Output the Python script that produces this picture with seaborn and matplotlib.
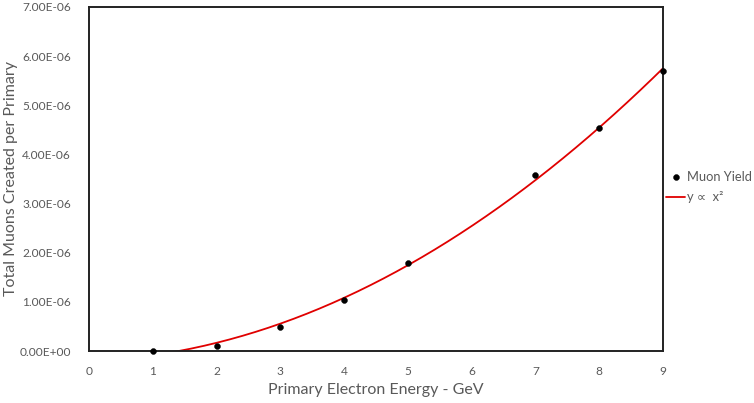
import numpy as np
import pandas as pd
import matplotlib
matplotlib.use("Agg")
import matplotlib.pyplot as plt
import seaborn as sns
from matplotlib.ticker import FuncFormatter

energy_gev = [1, 2, 3, 4, 5, 7, 8, 9]
muon_yield = [0.0, 0.10e-6, 0.49e-6, 1.04e-6, 1.79e-6, 3.58e-6, 4.54e-6, 5.70e-6]

x_ticks = list(range(0, 10))
y_ticks = [0, 1e-6, 2e-6, 3e-6, 4e-6, 5e-6, 6e-6, 7e-6]

fit_label = "y \u221d  x\u00b2"

sns.set_theme(style="white")
plt.rcParams['font.family'] = ['Lato', 'DejaVu Sans']

df = pd.DataFrame({"energy": energy_gev, "muons": muon_yield})

# quadratic trendline, like the spreadsheet one
coef = np.polyfit(df["energy"], df["muons"], 2)
fit_x = np.linspace(1, 9, 200)
fit_df = pd.DataFrame({"energy": fit_x, "muons": np.polyval(coef, fit_x)})

fig = plt.figure(figsize=(7.54, 4.03), dpi=100)
ax = fig.add_axes([89 / 754, 1 - 351 / 403, (663 - 89) / 754, (351 - 7) / 403])

sns.lineplot(data=fit_df, x="energy", y="muons", ax=ax, color="#e00000",
             linewidth=1.3, label=fit_label, zorder=2)
sns.scatterplot(data=df, x="energy", y="muons", ax=ax, color="black",
                s=18, edgecolor="black", label="Muon Yield", zorder=3, clip_on=False)

ax.set_xlim(0, 9)
ax.set_ylim(0, 7e-6)
ax.set_xticks(x_ticks)
ax.set_yticks(y_ticks)
ax.yaxis.set_major_formatter(FuncFormatter(lambda v, p: f"{v:.2E}"))
ax.tick_params(axis="x", length=0, labelsize=8.6, colors="#595959", pad=11)
ax.tick_params(axis="y", length=0, labelsize=8.6, colors="#595959", pad=13)

for s in ax.spines.values():
    s.set_color("#222222")
    s.set_linewidth(1.4)

ax.set_xlabel("Primary Electron Energy - GeV", fontsize=11.5, color="#595959")
ax.set_ylabel("Total Muons Created per Primary", fontsize=11.5, color="#595959")
ax.xaxis.set_label_coords(0.5, -(383 - 351) / 344)
ax.yaxis.set_label_coords(-(89 - 18) / 574, 0.5)

handles, labels = ax.get_legend_handles_labels()
order = [labels.index("Muon Yield"), labels.index(fit_label)]
leg = ax.legend([handles[i] for i in order], [labels[i] for i in order],
                loc="center left", bbox_to_anchor=(666 / 754, 1 - 187 / 403),
                bbox_transform=fig.transFigure, borderaxespad=0, borderpad=0,
                frameon=False, fontsize=9.3, handlelength=1.5, handletextpad=0.15,
                labelspacing=0.65)
for t in leg.get_texts():
    t.set_color("#595959")

fig.savefig("out.png", dpi=100)
